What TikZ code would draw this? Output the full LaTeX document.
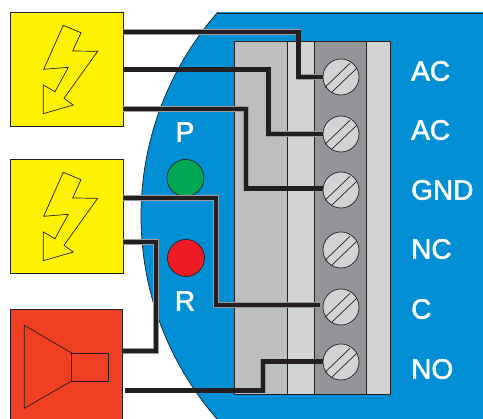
\documentclass[tikz,border=0pt]{standalone}
\usepackage{fontspec}
\setmainfont{Liberation Sans}
\newfontfamily\pinfont[FakeBold=2]{Liberation Sans}
\definecolor{panelblue}{HTML}{008FD5}
\definecolor{alarmyellow}{HTML}{FFF200}
\definecolor{hornred}{HTML}{F04023}
\definecolor{ledgreen}{HTML}{00A651}
\definecolor{ledred}{HTML}{ED1C24}
\definecolor{wireblack}{HTML}{231F20}
\definecolor{blockgray}{HTML}{BCBEC0}
\definecolor{stripgray}{HTML}{D1D3D4}
\definecolor{screwgray}{HTML}{939598}
\begin{document}
\begin{tikzpicture}[x=1pt,y=-1pt]
\tikzset{yellow box/.style={rectangle,draw=wireblack,line width=.8pt,fill=alarmyellow,minimum width=113pt,minimum height=114pt,inner sep=0pt,outer sep=0pt}}
\tikzset{red box/.style={rectangle,draw=wireblack,line width=.8pt,fill=hornred,minimum width=112pt,minimum height=115pt,inner sep=0pt,outer sep=0pt}}
\tikzset{led/.style={circle,draw=wireblack,line width=.7pt,minimum size=37pt,inner sep=0pt,outer sep=0pt}}
\tikzset{screw head/.style={circle,draw=wireblack,line width=.7pt,fill=stripgray,minimum size=36pt,inner sep=0pt,outer sep=0pt}}
\tikzset{pin label/.style={text=white,inner sep=0pt,font=\pinfont\fontsize{28}{28}\selectfont}}
\tikzset{wire/.style={draw=wireblack,line width=4.4pt,miter limit=4,preaction={draw=wireblack!45,line width=5.2pt}}}
\tikzset{thin line/.style={draw=wireblack,line width=.7pt}}
\useasboundingbox (0,0) rectangle (483,419);

% Panel
\begin{scope}
\clip (0,13) rectangle (483,419);
\fill[panelblue] (450,216) circle [radius=309pt];
\draw[thin line] (450,216) circle [radius=309pt];
\draw[thin line] (217,13) -- (483,13);
\end{scope}

% Terminal block
\fill[blockgray] (234,41) rectangle (287,394);
\fill[stripgray] (287,41) rectangle (314.5,394);
\fill[screwgray] (314.5,41) rectangle (366,394);
\fill[stripgray] (366,41) rectangle (390,394);
\draw[thin line] (234,41) rectangle (390,394);
\draw[thin line] (287,41) -- (287,394) (314.5,41) -- (314.5,394) (366,41) -- (366,394);

% Boxes
\node[yellow box] (power1) at (66.5,69) {};
\node[yellow box] (power2) at (66.5,216) {};
\node[red box] (horn) at (66.5,366.5) {};

\node[led,fill=ledgreen] (ledp) at (185.5,178) {};
\node[led,fill=ledred] (ledr) at (186,258) {};
\node[pin label] (labelp) at (185,132) {P};
\node[pin label] (labelr) at (185,301) {R};

% Screws
\foreach \n/\y in {1/77,2/134,3/190,4/250,5/307,6/362}{
  \node[screw head] (screw\n) at (341,\y) {};
  \draw[thin line,shift={(screw\n)}] (-16,10.3) -- (9,-13.7) (-9.3,15.3) -- (15.7,-8.7);
}

\node[pin label,anchor=west] (pin1) at (411,71) {AC};
\node[pin label,anchor=west] (pin2) at (411,130) {AC};
\node[pin label,anchor=west] (pin3) at (411,190) {GND};
\node[pin label,anchor=west] (pin4) at (411,249) {NC};
\node[pin label,anchor=west] (pin5) at (411,309) {C};
\node[pin label,anchor=west] (pin6) at (411,369) {NO};

% Bolts and horn
\foreach \dy in {0,147}{
  \draw[thin line,yshift=-\dy pt] (63.3,25.3) -- (81,32.7) -- (72.7,51) -- (97.7,51.3) -- (64,98.3) -- (73.3,105) -- (43.3,113.7) -- (43.3,85) -- (55,91.7) -- (68.3,67.3) -- (43.7,69.3) -- cycle;
}
\draw[thin line] (71.7,353) -- (24.3,325.3) -- (24.3,408.3) -- (71.7,381);
\draw[thin line] (71.7,353) rectangle (108.7,381);

% Wires
\coordinate (out1) at (123,32);
\coordinate (out2) at (123,69.5);
\coordinate (out3) at (123,109);
\coordinate (out4) at (123,198);
\coordinate (out5) at (123,242);
\coordinate (out6) at (123,351);
\coordinate (out7) at (125,390.5);
\coordinate (in3) at (323,188.5);
\coordinate (in5) at (320,305);
\coordinate (in6) at (323,361.5);

\draw[wire] (out1) -- (298.5,32) -- (298.5,77) -- (screw1.west);
\draw[wire] (out2) -- (268.5,69.5) -- (268.5,134) -- (screw2.west);
\draw[wire] (out3) -- (246,109) -- (246,188.5) -- (in3);
\draw[wire] (out4) -- (216,198) -- (216,305) -- (in5);
\draw[wire] (out5) -- (156,242) -- (156,351) -- (out6);
\draw[wire] (out7) -- (263,390.5) -- (263,361.5) -- (in6);

\end{tikzpicture}
\end{document}
